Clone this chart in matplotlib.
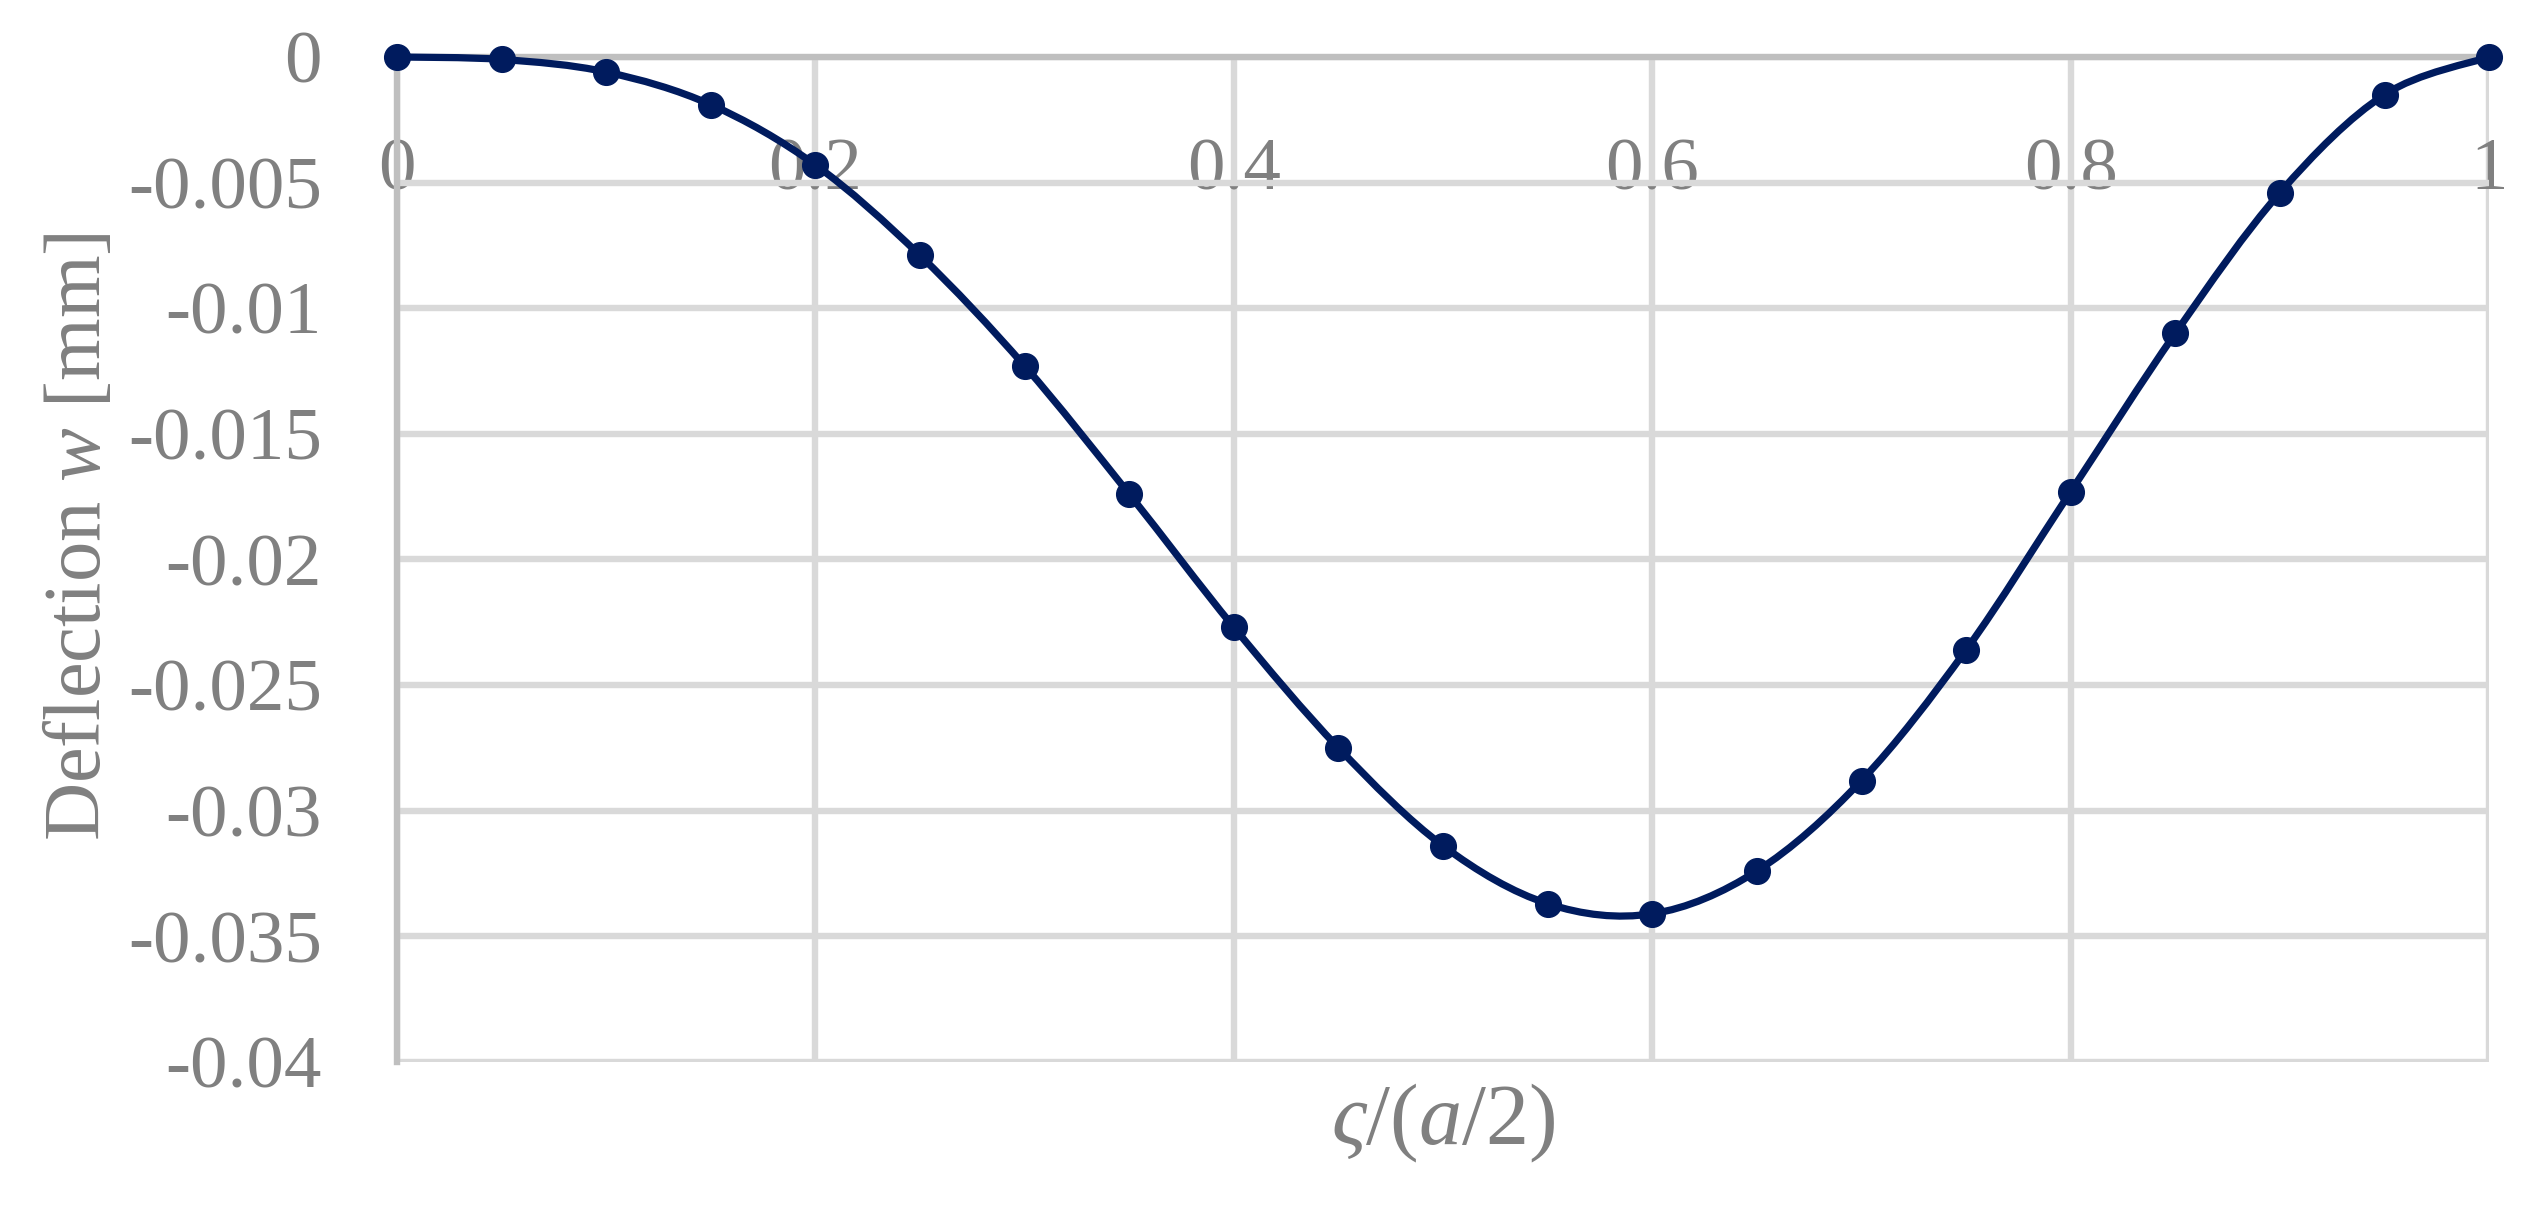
import matplotlib
matplotlib.use("Agg")
import matplotlib.pyplot as plt
import numpy as np
from matplotlib.path import Path
from matplotlib.patches import PathPatch

# ---- data ----
x_vals = [0.0, 0.05, 0.1, 0.15, 0.2, 0.25, 0.3, 0.35, 0.4, 0.45, 0.5,
          0.55, 0.6, 0.65, 0.7, 0.75, 0.8, 0.85, 0.9, 0.95, 1.0]
w_vals = [0.0, -0.0001, -0.0006, -0.0019, -0.0043, -0.0079, -0.0123, -0.0174,
          -0.0227, -0.0275, -0.0314, -0.0337, -0.0341, -0.0324, -0.0288,
          -0.0236, -0.0173, -0.0110, -0.0054, -0.0015, 0.0]
x_ticks = [0, 0.2, 0.4, 0.6, 0.8, 1.0]
x_tick_labels = ["0", "0.2", "0.4", "0.6", "0.8", "1"]
y_ticks = [0, -0.005, -0.01, -0.015, -0.02, -0.025, -0.03, -0.035, -0.04]
y_tick_labels = ["0", "-0.005", "-0.01", "-0.015", "-0.02", "-0.025",
                 "-0.03", "-0.035", "-0.04"]

plt.rcParams['font.family'] = ['Liberation Serif', 'DejaVu Serif']
plt.rcParams['mathtext.fontset'] = 'custom'
plt.rcParams['mathtext.rm'] = 'Liberation Serif'
plt.rcParams['mathtext.it'] = 'Liberation Serif:italic'

line_color = '#001B5E'
text_color = '#808080'
grid_color = '#D9D9D9'
axis_color = '#BFBFBF'

fig = plt.figure(figsize=(25.42, 12.17), dpi=100)
ax = fig.add_axes([0.1562, 0.1274, 0.8230, 0.8258])

ax.set_xlim(0, 1)
ax.set_ylim(-0.04, 0)

# smooth line (Bezier through data points, Excel-style smoothing)
P = np.column_stack([x_vals, w_vals])
n = len(P)
verts = [tuple(P[0])]
codes = [Path.MOVETO]
for i in range(n - 1):
    p0 = P[i - 1] if i > 0 else P[i]
    p1 = P[i]
    p2 = P[i + 1]
    p3 = P[i + 2] if i + 2 < n else P[i + 1]
    c1 = p1 + (p2 - p0) / 6.0
    c2 = p2 - (p3 - p1) / 6.0
    verts += [tuple(c1), tuple(c2), tuple(p2)]
    codes += [Path.CURVE4] * 3
patch = PathPatch(Path(verts, codes), facecolor='none', edgecolor=line_color,
                  lw=5.2, transform=ax.transData, clip_on=False, zorder=3)
ax.add_patch(patch)
ax.plot(x_vals, w_vals, linestyle='none', marker='o', markersize=18.5,
        color=line_color, clip_on=False, zorder=4)

# grid
ax.set_xticks(x_ticks)
ax.set_yticks(y_ticks)
ax.set_xticklabels(x_tick_labels)
ax.set_yticklabels(y_tick_labels)
ax.grid(True, color=grid_color, lw=4.6, zorder=0)
ax.set_axisbelow(True)

for s in ['top', 'right']:
    ax.spines[s].set_visible(False)
ax.spines['bottom'].set_position(('data', 0))
ax.spines['bottom'].set_color(axis_color)
ax.spines['bottom'].set_linewidth(4.6)
ax.spines['bottom'].set_zorder(1)
ax.spines['left'].set_color(axis_color)
ax.spines['left'].set_linewidth(4.6)
ax.spines['left'].set_zorder(1)

ax.tick_params(axis='both', length=0, labelsize=54, labelcolor=text_color)
ax.tick_params(axis='x', pad=58)
ax.tick_params(axis='y', pad=54)

ax.set_ylabel('Deflection $\\mathit{w}$ [mm]', fontsize=58, color=text_color)
ax.yaxis.set_label_coords(-0.134, 0.523)
ax.set_xlabel('$\\mathit{ς}$/($\\mathit{a}$/2)', fontsize=62, color=text_color)
ax.xaxis.set_label_coords(0.5, -0.02)

fig.savefig('out.png', dpi=100, facecolor='white')
